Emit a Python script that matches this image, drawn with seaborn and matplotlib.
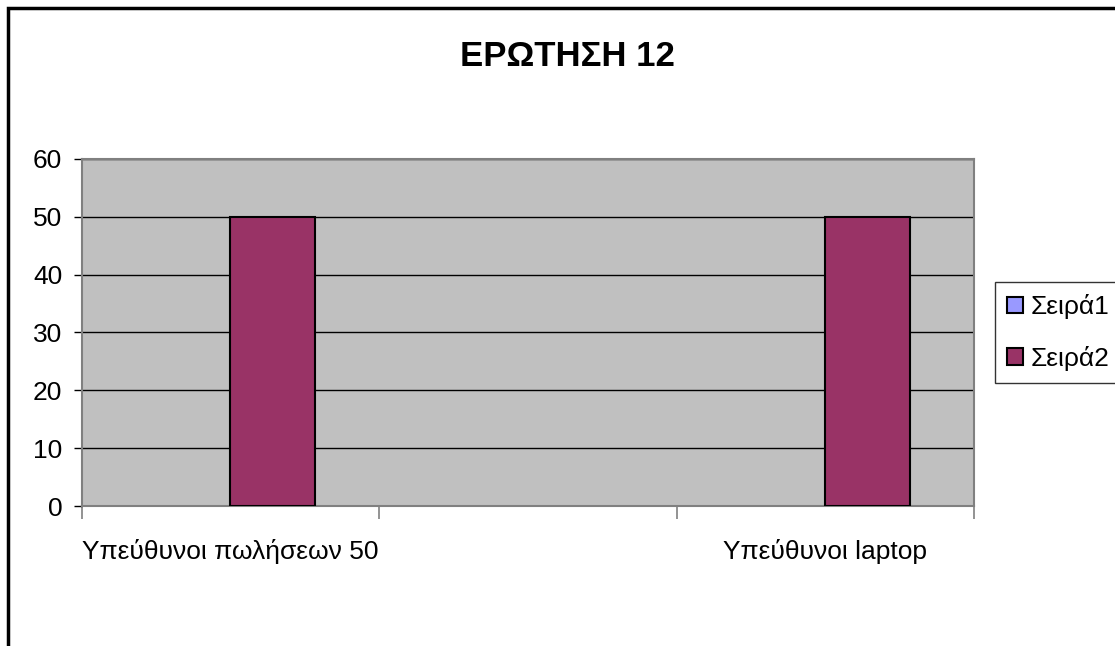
import numpy as np
import pandas as pd
import matplotlib
matplotlib.use('Agg')
import matplotlib.pyplot as plt
from matplotlib.patches import Patch, Rectangle
import seaborn as sns

# Chart data
categories = ['Υπεύθυνοι πωλήσεων 50', '', 'Υπεύθυνοι laptop']
series_names = ['Σειρά1', 'Σειρά2']
seira1 = [np.nan, np.nan, np.nan]
seira2 = [50, np.nan, 50]
colors = ['#9999FF', '#993366']

df = pd.DataFrame({
    'cat': categories * 2,
    'series': [series_names[0]] * 3 + [series_names[1]] * 3,
    'value': seira1 + seira2,
})

sns.set_style('white')
plt.rcParams['font.family'] = ['Liberation Sans', 'DejaVu Sans']
plt.rcParams['text.color'] = 'black'
plt.rcParams['xtick.color'] = 'black'
plt.rcParams['ytick.color'] = 'black'

fig = plt.figure(figsize=(11.15, 6.46), dpi=100)
ax = fig.add_axes([0.0733, 0.2167, 0.8002, 0.5372])
ax.set_facecolor('#C0C0C0')

sns.barplot(data=df, x='cat', y='value', hue='series', order=categories,
            hue_order=series_names, palette=colors, saturation=1, width=0.57, gap=0,
            edgecolor='black', linewidth=1.5, legend=False, ax=ax, zorder=3)

ax.set_ylim(0, 60)
ax.set_xlim(-0.5, 2.5)
ax.set_yticks(range(0, 61, 10))
ax.yaxis.grid(True, color='black', linewidth=1, zorder=1)
ax.set_axisbelow(True)
ax.set_xlabel('')
ax.set_ylabel('')

# category boundary ticks
ax.set_xticks([-0.5, 0.5, 1.5, 2.5], minor=True)
ax.tick_params(axis='x', which='minor', length=9, width=1.2, color='#808080', direction='out')
ax.tick_params(axis='x', which='major', length=0, pad=24, labelsize=19, labelcolor='black')
ax.tick_params(axis='y', length=6, width=1, color='black', pad=8, labelsize=19,
               labelcolor='black', direction='out')
ax.tick_params(left=True, bottom=True, which='both')

for s in ax.spines.values():
    s.set_color('#808080')
    s.set_linewidth(1.5)

fig.text(0.509, 0.912, 'ΕΡΩΤΗΣΗ 12', ha='center', va='center',
         fontsize=25, fontweight='bold', color='black')

handles = [Patch(facecolor=c, edgecolor='black', linewidth=1.5) for c in colors]
leg = fig.legend(handles, series_names, loc='center left',
                 bbox_to_anchor=(0.8925, 0.4853), fontsize=19, frameon=True,
                 fancybox=False, handlelength=0.6, handleheight=0.6,
                 handletextpad=0.3, labelspacing=1.0, borderpad=0.45,
                 borderaxespad=0)
leg.get_frame().set_edgecolor('black')
leg.get_frame().set_linewidth(1)
for t in leg.get_texts():
    t.set_color('black')

# outer chart border
fig.patches.append(Rectangle((0.0072, -0.5), 2, 1.4876, transform=fig.transFigure,
                             fill=False, edgecolor='black', linewidth=2.5))

fig.savefig('out.png', dpi=100)
